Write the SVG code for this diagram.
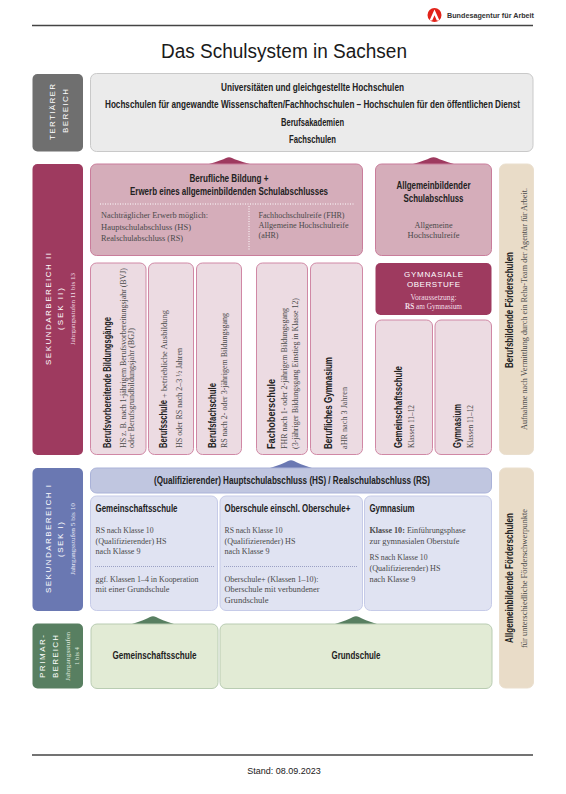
<svg xmlns="http://www.w3.org/2000/svg" width="566" height="794" viewBox="0 0 566 794">
<style>
text{font-family:"Liberation Sans",Arial,sans-serif;fill:#1a1a1a}
.b{font-family:"Liberation Sans Narrow","Liberation Sans",Arial,sans-serif;font-weight:700;font-size:10px;fill:#222}
.c{text-anchor:middle}
.s{font-family:"Liberation Serif","DejaVu Serif",serif;font-size:8px;fill:#4a4a4a}
.w{font-family:"Liberation Sans Narrow","Liberation Sans",Arial,sans-serif;fill:#fff;font-size:8px}
.j{font-family:"Liberation Serif","DejaVu Serif",serif;fill:#f2dfe6;font-size:7px}
.ter{fill:#ebebeb;stroke:#c9c9c9}
.g2{fill:#d5adba;stroke:#c97d9b}
.c2{fill:#ecdbe2;stroke:#d088a5}
.bei{fill:#e9dcc8;stroke:#eadfce}
.bl{fill:#c0c6e0;stroke:#aab2d8}
.c1{fill:#e0e3f2;stroke:#c6cbe8}
.gr{fill:#e2ebd5;stroke:#b9ccb2}
.dot{stroke:#fff;stroke-width:1;stroke-dasharray:1 1.5;fill:none}
.dotb{stroke:#9aa0c4;stroke-width:1;stroke-dasharray:1 1;fill:none}
</style>
<g id="header">
<line x1="32" y1="25.5" x2="533" y2="25.5" stroke="#444" stroke-width="1.4"/>
<circle cx="434.5" cy="15" r="7" fill="#e2231a"/>
<path d="M429.5 20.5L434.5 9.5L439.5 20.5H436.8L434.5 15.2L432.2 20.5Z" fill="#fff"/>
<text x="447" y="18" font-size="8" font-weight="700" textLength="87" lengthAdjust="spacingAndGlyphs" style="font-family:'Liberation Sans Narrow','Liberation Sans',sans-serif;fill:#333">Bundesagentur für Arbeit</text>
<text x="284" y="58" font-size="20" class="c" textLength="246" lengthAdjust="spacingAndGlyphs">Das Schulsystem in Sachsen</text>
</g>
<g id="connectors">
<path d="M209 164Q222 160 226 158Q229 156.500 232 158Q236 160 250 164Z" fill="#9e3a5f"/>
<path d="M413 164Q426 160 430 158Q433.500 156.500 437 158Q441 160 454 164Z" fill="#9e3a5f"/>
<path d="M270 468Q283 464 288 461Q291 459.500 294 461Q299 464 312 468Z" fill="#6a78b2"/>
<path d="M132 624Q145 620 150 617Q153 615.500 156 617Q161 620 174 624Z" fill="#587f61"/>
<path d="M335 624Q348 620 353 617Q356 615.500 359 617Q364 620 377 624Z" fill="#587f61"/>
</g>
<g id="label-tertiaer">
<rect x="32.500" y="74" width="50.500" height="77.500" rx="5" fill="#6f6f6f"/>
<text class="w" transform="translate(54.500 140) rotate(-90)" textLength="56">TERTIÄRER</text>
<text class="w" transform="translate(67.500 133) rotate(-90)" textLength="44">BEREICH</text>
</g>
<g id="tertiaer">
<rect x="90.500" y="73.500" width="442.500" height="78" rx="6" class="ter"/>
<text class="b c" x="312.500" y="91" textLength="183" lengthAdjust="spacingAndGlyphs">Universitäten und gleichgestellte Hochschulen</text>
<text class="b c" transform="translate(312.500 108) scale(.77 1)" textLength="539" lengthAdjust="spacingAndGlyphs">Hochschulen für angewandte Wissenschaften/Fachhochschulen – Hochschulen für den öffentlichen Dienst</text>
<text class="b c" x="312.500" y="126" textLength="63" lengthAdjust="spacingAndGlyphs">Berufsakademien</text>
<text class="b c" x="312.500" y="143" textLength="47" lengthAdjust="spacingAndGlyphs">Fachschulen</text>
</g>
<g id="label-sek2">
<rect x="32.500" y="164" width="50.500" height="291" rx="5" fill="#9e3a5f"/>
<text class="w" transform="translate(50.500 365) rotate(-90)" textLength="112">SEKUNDARBEREICH II</text>
<text class="w" transform="translate(63 330) rotate(-90)" textLength="42">(SEK II)</text>
<text class="j" transform="translate(75 345) rotate(-90)" textLength="72" lengthAdjust="spacingAndGlyphs">Jahrgangsstufen 11 bis 13</text>
</g>
<g id="abschluss-beruf">
<rect x="90.500" y="164" width="272" height="91.500" rx="6" class="g2"/>
<text class="b c" x="229" y="182" textLength="79" lengthAdjust="spacingAndGlyphs">Berufliche Bildung +</text>
<text class="b c" x="229" y="195" textLength="198" lengthAdjust="spacingAndGlyphs">Erwerb eines allgemeinbildenden Schulabschlusses</text>
<line x1="100" y1="204" x2="355" y2="204" class="dot"/>
<line x1="249" y1="206" x2="249" y2="251" class="dot"/>
<text class="s" x="101" y="218" textLength="107" lengthAdjust="spacingAndGlyphs">Nachträglicher Erwerb möglich:</text>
<text class="s" x="101" y="230" textLength="90" lengthAdjust="spacingAndGlyphs">Hauptschulabschluss (HS)</text>
<text class="s" x="101" y="241" textLength="82" lengthAdjust="spacingAndGlyphs">Realschulabschluss (RS)</text>
<text class="s" x="258.500" y="218" textLength="86" lengthAdjust="spacingAndGlyphs">Fachhochschulreife (FHR)</text>
<text class="s" x="258.500" y="228" textLength="90" lengthAdjust="spacingAndGlyphs">Allgemeine Hochschulreife</text>
<text class="s" x="258.500" y="238" textLength="20" lengthAdjust="spacingAndGlyphs">(aHR)</text>
</g>
<g id="abschluss-allg">
<rect x="375.500" y="164" width="116" height="91.500" rx="6" class="g2"/>
<text class="b c" x="433.500" y="189" textLength="74" lengthAdjust="spacingAndGlyphs">Allgemeinbildender</text>
<text class="b c" x="433.500" y="202" textLength="60" lengthAdjust="spacingAndGlyphs">Schulabschluss</text>
<text class="s c" x="433.500" y="228" textLength="38" lengthAdjust="spacingAndGlyphs">Allgemeine</text>
<text class="s c" x="433.500" y="238" textLength="52" lengthAdjust="spacingAndGlyphs">Hochschulreife</text>
</g>
<g id="bvb">
<rect x="90.500" y="263" width="55.500" height="191.500" rx="6" class="c2"/>
<text class="b" transform="translate(111 448) rotate(-90)" textLength="131" lengthAdjust="spacingAndGlyphs">Berufsvorbereitende Bildungsgänge</text>
<text class="s" transform="translate(125.500 448) rotate(-90)" textLength="180" lengthAdjust="spacingAndGlyphs">HS z. B. nach 1-jährigem Berufsvorbereitungsjahr (BVJ)</text>
<text class="s" transform="translate(134 448) rotate(-90)" textLength="120" lengthAdjust="spacingAndGlyphs">oder Berufsgrundbildungsjahr (BGJ)</text>
</g>
<g id="berufsschule">
<rect x="148.500" y="263" width="45" height="191.500" rx="6" class="c2"/>
<text class="b" transform="translate(166.500 448) rotate(-90)" textLength="48" lengthAdjust="spacingAndGlyphs">Berufsschule</text>
<text class="s" transform="translate(166.500 398) rotate(-90)" textLength="88" lengthAdjust="spacingAndGlyphs">+ betriebliche Ausbildung</text>
<text class="s" transform="translate(182 448) rotate(-90)" textLength="100" lengthAdjust="spacingAndGlyphs">HS oder RS nach 2–3 ½ Jahren</text>
</g>
<g id="berufsfachschule">
<rect x="196.500" y="263" width="45" height="191.500" rx="6" class="c2"/>
<text class="b" transform="translate(215.500 448) rotate(-90)" textLength="65" lengthAdjust="spacingAndGlyphs">Berufsfachschule</text>
<text class="s" transform="translate(226.500 448) rotate(-90)" textLength="135" lengthAdjust="spacingAndGlyphs">RS nach 2- oder 3-jährigem Bildungsgang</text>
</g>
<g id="fachoberschule">
<rect x="256.500" y="263" width="51" height="191.500" rx="6" class="c2"/>
<text class="b" transform="translate(275 449) rotate(-90)" textLength="70" lengthAdjust="spacingAndGlyphs">Fachoberschule</text>
<text class="s" transform="translate(287 449) rotate(-90)" textLength="141" lengthAdjust="spacingAndGlyphs">FHR nach 1- oder 2-jährigem Bildungsgang</text>
<text class="s" transform="translate(298 449) rotate(-90)" textLength="151" lengthAdjust="spacingAndGlyphs">(3-jähriger Bildungsgang Einstieg in Klasse 12)</text>
</g>
<g id="berufliches-gymnasium">
<rect x="310.500" y="263" width="52" height="191.500" rx="6" class="c2"/>
<text class="b" transform="translate(331.500 449) rotate(-90)" textLength="92" lengthAdjust="spacingAndGlyphs">Berufliches Gymnasium</text>
<text class="s" transform="translate(347 449) rotate(-90)" textLength="62" lengthAdjust="spacingAndGlyphs">aHR nach 3 Jahren</text>
</g>
<g id="oberstufe">
<rect x="375.500" y="263" width="116" height="52" rx="5" fill="#9e3a5f"/>
<text class="w c" x="433.500" y="277" textLength="59">GYMNASIALE</text>
<text class="w c" x="433.500" y="287" textLength="53">OBERSTUFE</text>
<text class="j c" x="433.500" y="300" textLength="46" style="font-size:8px" lengthAdjust="spacingAndGlyphs">Voraussetzung:</text>
<text class="j c" x="433.500" y="309" textLength="57" style="font-size:8px" lengthAdjust="spacingAndGlyphs"><tspan font-weight="700">RS</tspan> am Gymnasium</text>
</g>
<g id="gemeinschaftsschule-sek2">
<rect x="375.500" y="320" width="57" height="134.500" rx="6" class="c2"/>
<text class="b" transform="translate(401.500 448) rotate(-90)" textLength="82" lengthAdjust="spacingAndGlyphs">Gemeinschaftsschule</text>
<text class="s" transform="translate(414 448) rotate(-90)" textLength="43" lengthAdjust="spacingAndGlyphs">Klassen 11–12</text>
</g>
<g id="gymnasium-sek2">
<rect x="435" y="320" width="56.500" height="134.500" rx="6" class="c2"/>
<text class="b" transform="translate(461 448) rotate(-90)" textLength="44" lengthAdjust="spacingAndGlyphs">Gymnasium</text>
<text class="s" transform="translate(472.500 448) rotate(-90)" textLength="43" lengthAdjust="spacingAndGlyphs">Klassen 11–12</text>
</g>
<g id="berufsbildende-foerderschulen">
<rect x="499.500" y="164" width="34" height="290.500" rx="6" class="bei"/>
<text class="b" transform="translate(513 368) rotate(-90)" textLength="116" lengthAdjust="spacingAndGlyphs">Berufsbildende Förderschulen</text>
<text class="s" transform="translate(526.500 430) rotate(-90)" textLength="242" lengthAdjust="spacingAndGlyphs">Aufnahme nach Vermittlung durch ein Reha-Team der Agentur für Arbeit.</text>
</g>
<g id="label-sek1">
<rect x="32.500" y="468" width="50.500" height="143" rx="5" fill="#6a78b2"/>
<text class="w" transform="translate(50.500 593) rotate(-90)" textLength="108">SEKUNDARBEREICH I</text>
<text class="w" transform="translate(63 557) rotate(-90)" textLength="35">(SEK I)</text>
<text class="j" transform="translate(75 575) rotate(-90)" textLength="72" lengthAdjust="spacingAndGlyphs" style="fill:#e6e9f5">Jahrgangsstufen 5 bis 10</text>
</g>
<g id="abschluss-sek1">
<rect x="90.500" y="468" width="401" height="25" rx="6" class="bl"/>
<text class="b c" x="292" y="484" textLength="276" lengthAdjust="spacingAndGlyphs">(Qualifizierender) Hauptschulabschluss (HS) / Realschulabschluss (RS)</text>
</g>
<g id="gemeinschaftsschule-sek1">
<rect x="90.500" y="496" width="127" height="114.500" rx="6" class="c1"/>
<text class="b" x="95.500" y="512" textLength="82" lengthAdjust="spacingAndGlyphs">Gemeinschaftsschule</text>
<text class="s" x="95.500" y="532.500" textLength="58" lengthAdjust="spacingAndGlyphs">RS nach Klasse 10</text>
<text class="s" x="95.500" y="543.500" textLength="71" lengthAdjust="spacingAndGlyphs">(Qualifizierender) HS</text>
<text class="s" x="95.500" y="554" textLength="45" lengthAdjust="spacingAndGlyphs">nach Klasse 9</text>
<line x1="95" y1="566.500" x2="214" y2="566.500" class="dotb"/>
<text class="s" x="95.500" y="582" textLength="103" lengthAdjust="spacingAndGlyphs">ggf. Klassen 1–4 in Kooperation</text>
<text class="s" x="95.500" y="592" textLength="74" lengthAdjust="spacingAndGlyphs">mit einer Grundschule</text>
</g>
<g id="oberschule">
<rect x="220" y="496" width="142.500" height="114.500" rx="6" class="c1"/>
<text class="b" transform="translate(224.500 512) scale(.74 1)" textLength="170" lengthAdjust="spacingAndGlyphs">Oberschule einschl. Oberschule+</text>
<text class="s" x="224.500" y="532.500" textLength="58" lengthAdjust="spacingAndGlyphs">RS nach Klasse 10</text>
<text class="s" x="224.500" y="543.500" textLength="71" lengthAdjust="spacingAndGlyphs">(Qualifizierender) HS</text>
<text class="s" x="224.500" y="554" textLength="45" lengthAdjust="spacingAndGlyphs">nach Klasse 9</text>
<line x1="224" y1="566.500" x2="358" y2="566.500" class="dotb"/>
<text class="s" x="224.500" y="582" textLength="94" lengthAdjust="spacingAndGlyphs">Oberschule+ (Klassen 1–10):</text>
<text class="s" x="224.500" y="592" textLength="95" lengthAdjust="spacingAndGlyphs">Oberschule mit verbundener</text>
<text class="s" x="224.500" y="603" textLength="44" lengthAdjust="spacingAndGlyphs">Grundschule</text>
</g>
<g id="gymnasium-sek1">
<rect x="364.500" y="496" width="127" height="114.500" rx="6" class="c1"/>
<text class="b" x="369.500" y="512" textLength="45" lengthAdjust="spacingAndGlyphs">Gymnasium</text>
<text class="s" x="369.500" y="532.500" textLength="96" lengthAdjust="spacingAndGlyphs"><tspan font-weight="700">Klasse 10:</tspan> Einführungsphase</text>
<text class="s" x="369.500" y="543.500" textLength="90" lengthAdjust="spacingAndGlyphs">zur gymnasialen Oberstufe</text>
<text class="s" x="369.500" y="559.500" textLength="58" lengthAdjust="spacingAndGlyphs">RS nach Klasse 10</text>
<text class="s" x="369.500" y="570.500" textLength="71" lengthAdjust="spacingAndGlyphs">(Qualifizierender) HS</text>
<text class="s" x="369.500" y="581.500" textLength="46" lengthAdjust="spacingAndGlyphs">nach Klasse 9</text>
</g>
<g id="allgemeinbildende-foerderschulen">
<rect x="499.500" y="468" width="34" height="220" rx="6" class="bei"/>
<text class="b" transform="translate(513 643) rotate(-90)" textLength="130" lengthAdjust="spacingAndGlyphs">Allgemeinbildende Förderschulen</text>
<text class="s" transform="translate(526.500 648) rotate(-90)" textLength="139" lengthAdjust="spacingAndGlyphs">für unterschiedliche Förderschwerpunkte</text>
</g>
<g id="label-primar">
<rect x="32.500" y="623.500" width="50.500" height="65" rx="5" fill="#587f61"/>
<text class="w" transform="translate(45 678) rotate(-90)" textLength="43">PRIMAR-</text>
<text class="w" transform="translate(57.500 678) rotate(-90)" textLength="43">BEREICH</text>
<text class="j" transform="translate(70 681) rotate(-90)" textLength="49" lengthAdjust="spacingAndGlyphs" style="fill:#dfe8dc">Jahrgangsstufen</text>
<text class="j" transform="translate(78.500 665) rotate(-90)" textLength="18" lengthAdjust="spacingAndGlyphs" style="fill:#dfe8dc">1 bis 4</text>
</g>
<g id="gemeinschaftsschule-primar">
<rect x="91" y="624" width="127" height="64.500" rx="6" class="gr"/>
<text class="b c" x="154.500" y="659" textLength="84" lengthAdjust="spacingAndGlyphs">Gemeinschaftsschule</text>
</g>
<g id="grundschule">
<rect x="220" y="624" width="272" height="64.500" rx="6" class="gr"/>
<text class="b c" x="356" y="659" textLength="49" lengthAdjust="spacingAndGlyphs">Grundschule</text>
</g>
<g id="footer">
<line x1="32" y1="755" x2="533" y2="755" stroke="#444" stroke-width="1.4"/>
<text class="c" x="284" y="774" font-size="9" fill="#333">Stand: 08.09.2023</text>
</g>
</svg>
